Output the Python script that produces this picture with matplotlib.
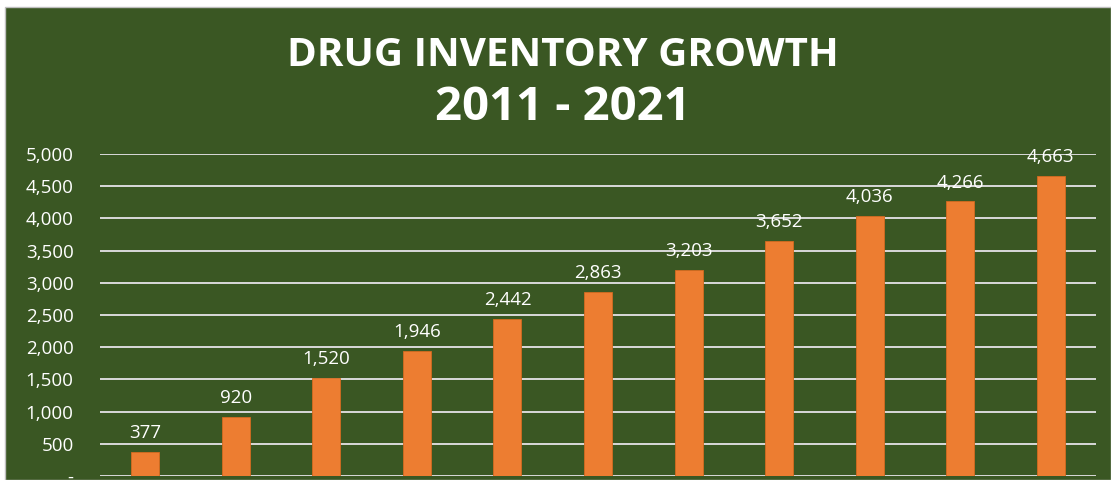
import matplotlib.pyplot as plt
from matplotlib.patches import Rectangle
from matplotlib.ticker import FuncFormatter

years = ['2011', '2012', '2013', '2014', '2015', '2016', '2017', '2018', '2019', '2020', '2021']
inventory = [377, 920, 1520, 1946, 2442, 2863, 3203, 3652, 4036, 4266, 4663]

bg = '#3A5723'
bar_color = '#ED7D31'
grid_color = '#D9D9D9'

plt.rcParams['font.family'] = ['Open Sans', 'DejaVu Sans']

fig = plt.figure(figsize=(11.11, 4.8), dpi=100)
fig.patch.set_facecolor('white')
fig.patches.append(Rectangle((5 / 1111, 0), 1 - 5 / 1111, 1 - 7 / 480,
                             transform=fig.transFigure, facecolor=bg,
                             edgecolor='#BFBFBF', linewidth=1, zorder=-5))

ax = fig.add_axes([100 / 1111, 4 / 480, 996 / 1111, 322 / 480])
ax.set_facecolor('none')

x = range(len(years))
bars = ax.bar(x, inventory, width=0.31, color=bar_color, edgecolor='#D36A20',
              linewidth=0.6, zorder=3)

for xi, v in zip(x, inventory):
    ax.annotate(f'{v:,}', (xi, v), xytext=(0, 7), textcoords='offset points',
                ha='center', va='bottom', color='white', fontsize=13.5, zorder=4)

ax.set_xlim(-0.5, len(years) - 0.5)
ax.set_ylim(0, 5000)
ax.set_yticks(range(0, 5001, 500))
ax.yaxis.set_major_formatter(FuncFormatter(lambda v, p: '-' if v == 0 else f'{int(v):,}'))
ax.tick_params(axis='y', colors='white', labelsize=13.5, length=0, pad=19)
ax.set_xticks([])
ax.grid(axis='y', color=grid_color, linewidth=1.4, zorder=1)
for s in ax.spines.values():
    s.set_visible(False)

fig.text(0.507, 1 - 55 / 480, 'DRUG INVENTORY GROWTH', ha='center', va='center',
         color='white', fontsize=29, fontweight='bold')
fig.text(0.507, 1 - 107 / 480, '2011 - 2021', ha='center', va='center',
         color='white', fontsize=34, fontweight='bold')

fig.savefig('out.png', dpi=100, facecolor=fig.get_facecolor())
